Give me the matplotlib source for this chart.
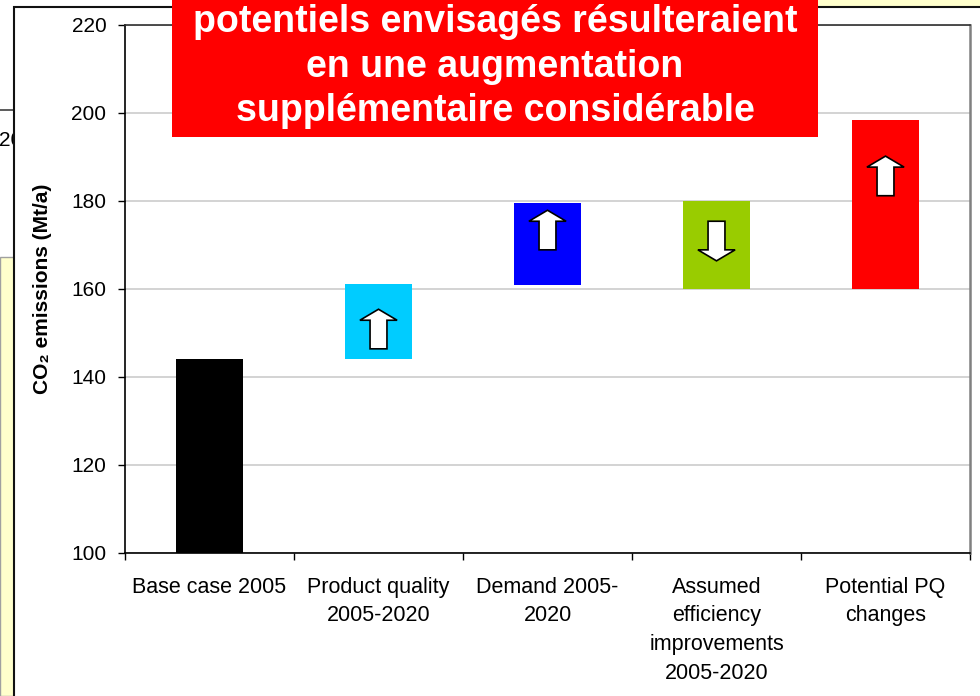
import numpy as np
import matplotlib.pyplot as plt
from matplotlib.patches import Rectangle
from matplotlib.lines import Line2D

plt.rcParams['font.family'] = ['Liberation Sans', 'DejaVu Sans']

# data (Mt/a)
categories = ["Base case 2005", "Product quality\n2005-2020", "Demand 2005-\n2020",
              "Assumed\nefficiency\nimprovements\n2005-2020", "Potential PQ\nchanges"]
bar_bottom = [100, 144, 161, 160, 160]
bar_top = [144, 161.2, 179.5, 180, 198.4]
bar_colors = ["#000000", "#00CCFF", "#0000FF", "#99CC00", "#FF0000"]
# arrows: direction (+1 up, -1 down, 0 none) and vertical centre
arrow_dir = [0, 1, 1, -1, 1]
arrow_mid = [0, 150.9, 173.4, 170.9, 185.7]

title_lines = "potentiels envisagés résulteraient\nen une augmentation\nsupplémentaire considérable"

W, H = 980, 696
fig = plt.figure(figsize=(W / 100, H / 100), dpi=100)

def fx(px):
    return px / W

def fy(py):
    return 1 - py / H

# slide background bits peeking out around the chart
fig.patches.append(Rectangle((fx(0), fy(H)), fx(16), fy(257) - fy(H), transform=fig.transFigure,
                             facecolor="#FFFFCC", edgecolor="#A0A0A0", lw=1, zorder=0))
fig.patches.append(Rectangle((fx(818), fy(6)), fx(162), fy(0) - fy(6), transform=fig.transFigure,
                             facecolor="#FFFFCC", edgecolor="none", zorder=0))
fig.lines.append(Line2D([fx(0), fx(14)], [fy(110), fy(110)], transform=fig.transFigure,
                        color="#404040", lw=1.2, zorder=0))
fig.text(fx(-1), fy(141), "20", fontsize=15, va="center", ha="left", zorder=0)

# chart frame
fig.patches.append(Rectangle((fx(14), fy(H + 10)), fx(980), fy(7) - fy(H + 10), transform=fig.transFigure,
                             facecolor="white", edgecolor="#111111", lw=1.5, zorder=1))

ax = fig.add_axes([fx(125), fy(553), fx(845), fy(25) - fy(553)])
ax.set_zorder(2)
ax.set_facecolor("white")

x = np.arange(len(categories))
heights = np.array(bar_top) - np.array(bar_bottom)
ax.bar(x, heights, bottom=bar_bottom, width=0.4, color=bar_colors, zorder=2)

# block arrows
aw, sw, ah, hl = 0.22, 0.10, 9.0, 2.5
for xi, d, m in zip(x, arrow_dir, arrow_mid):
    if d == 0:
        continue
    tip = m + d * ah / 2
    base = m - d * ah / 2
    neck = tip - d * hl
    xs = [xi - sw / 2, xi - sw / 2, xi - aw / 2, xi, xi + aw / 2, xi + sw / 2, xi + sw / 2]
    ys = [base, neck, neck, tip, neck, neck, base]
    ax.fill(xs, ys, facecolor="white", edgecolor="black", lw=1.2, zorder=3)

ax.set_xlim(-0.5, len(categories) - 0.5)
ax.set_ylim(100, 220)
ax.set_yticks(np.arange(100, 221, 20))
ax.yaxis.grid(True, color="#D0D0D0", lw=1.3, zorder=0)
ax.set_axisbelow(True)

ax.set_xticks(x)
ax.set_xticklabels(categories, fontsize=15.5, linespacing=1.48)
ax.set_xticks(np.arange(-0.5, len(categories), 1), minor=True)
ax.tick_params(axis="x", which="major", length=0, pad=17)
ax.tick_params(axis="x", which="minor", length=5, width=1, direction="out")
ax.tick_params(axis="y", labelsize=15, length=5, width=1, direction="out", pad=8.5)

ax.set_ylabel("CO₂ emissions (Mt/a)", fontsize=15, fontweight="bold", labelpad=14)

for s in ["left", "bottom"]:
    ax.spines[s].set_color("black")
    ax.spines[s].set_linewidth(1.2)
ax.spines["top"].set_color("#303030")
ax.spines["top"].set_linewidth(1.2)
ax.spines["right"].set_color("#808080")
ax.spines["right"].set_linewidth(1.8)

# red headline box over the chart
fig.patches.append(Rectangle((fx(172), fy(137)), fx(646), fy(-20) - fy(137), transform=fig.transFigure,
                             facecolor="#FF0000", edgecolor="none", zorder=5))
fig.text(fx(495), fy(121), title_lines, ha="center", va="baseline", color="white",
         fontsize=27, fontweight="bold", linespacing=1.3, zorder=6)

fig.savefig("out.png", dpi=100)
